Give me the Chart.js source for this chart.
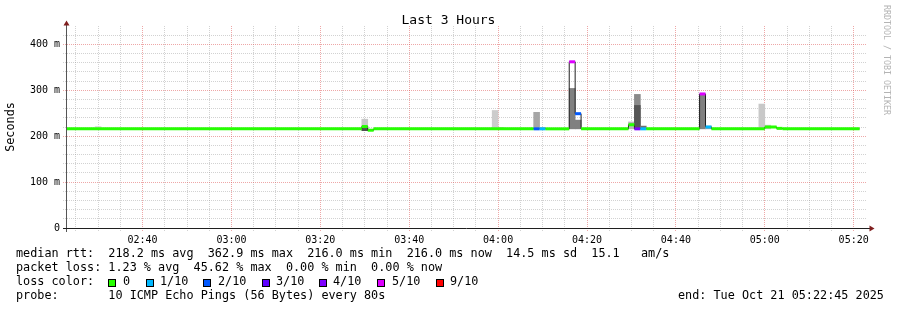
<!DOCTYPE html>
<html><head><meta charset="utf-8">
<script src="https://cdn.jsdelivr.net/npm/chart.js@4.4.1/dist/chart.umd.min.js"></script>
<style>
html,body{margin:0;padding:0;background:#fff;}
#wrap{position:relative;width:897px;height:310px;overflow:hidden;background:#fff;font-family:"DejaVu Sans Mono",monospace;color:#000;}
#c{position:absolute;left:0;top:0;}
.t{position:absolute;white-space:pre;font-size:11.8px;line-height:14px;}
#title{position:absolute;left:0;width:897px;top:11.5px;text-align:center;font-size:13px;line-height:16px;white-space:pre;}
#wm{position:absolute;left:882px;top:5px;writing-mode:vertical-rl;font-size:8.3px;line-height:10px;color:#b4b4b4;white-space:pre;}
.sq{position:absolute;width:6px;height:6px;border:1px solid #000;top:279px;}
</style></head><body>
<div id="wrap">
<canvas id="c" width="897" height="310"></canvas>
<div id="title">Last 3 Hours</div>
<div id="wm">RRDTOOL / TOBI OETIKER</div>
<div id="legend"></div>
</div>
<script>
// ---------------- data ----------------
const titleText = "Last 3 Hours";
const yAxisTitle = "Seconds";
const xStart = "02:23:00";
const xEnd = "05:23:00";
const xTickLabels = ["02:40","03:00","03:20","03:40","04:00","04:20","04:40","05:00","05:20"];
const yTickValues = [0, 100, 200, 300, 400];
const yTickLabels = ["0", "100 m", "200 m", "300 m", "400 m"];
const stepSeconds = 80;

// median rtt (ms) per step run; last time closes the final run
const medianTimes = ["02:22:40","03:29:20","03:30:40","03:32:00","04:08:00","04:09:20","04:10:40",
  "04:16:00","04:17:20","04:18:40","04:29:20","04:30:40","04:32:00","04:33:20",
  "04:45:20","04:46:40","04:48:00","05:00:00","05:02:40","05:04:00","05:21:20"];
const medianMs   = [216, 221, 213, 216, 216, 216, 216, 362, 249, 216, 225, 216, 216, 216, 292, 220, 216, 220, 217, 216];
const medianLoss = [0,   0,   0,   0,   2,   1,   0,   5,   2,   0,   0,   4,   1,   0,   5,   1,   0,   0,   0,   0];

// smoke (ping spread) per 80 s step
const smokeTimes = ["02:29:20","03:29:20","03:29:20","03:58:40","04:00:00","04:08:00","04:09:20",
  "04:16:00","04:17:20","04:29:20","04:30:40","04:30:40","04:32:00","04:45:20","04:46:40","04:58:40","05:00:00"];
const smokeLow  = [215, 216, 212, 216, 216, 216, 216, 216, 216, 216, 216, 216, 216, 216, 216, 216, 216];
const smokeHigh = [221, 237, 217, 256, 219, 252, 219, 304, 235, 231, 291, 267, 222, 289, 222, 270, 224];
const smokeColors = ["#d8d8d8","#c8c8c8","#505050","#cccccc","#c0c0c0","#a6a6a6","#a6a6a6",
  "#808080","#808080","#b8b8b8","#8a8a8a","#555555","#707070","#808080","#a0a0a0","#c8c8c8","#c8c8c8"];

const lossLevels = [0, 1, 2, 3, 4, 5, 9];
const lossLabels = ["0", "1/10", "2/10", "3/10", "4/10", "5/10", "9/10"];
const lossColors = ["#26ff00", "#00b8ff", "#0059ff", "#5e00ff", "#7e00ff", "#dd00ff", "#ff0000"];

const statRows = [
  "median rtt:  218.2 ms avg  362.9 ms max  216.0 ms min  216.0 ms now  14.5 ms sd  15.1   am/s",
  "packet loss: 1.23 % avg  45.62 % max  0.00 % min  0.00 % now",
  "loss color:",
  "probe:       10 ICMP Echo Pings (56 Bytes) every 80s"
];
const endText = "end: Tue Oct 21 05:22:45 2025";

// ---------------- layout / style ----------------
const W = 897, H = 310;
const PLOT = {left: 67, right: 867, top: 26, bottom: 228};
const GRID = "rgba(143,143,143,0.4)";
const MGRID = "rgba(222,79,79,0.5)";
const FONT = "DejaVu Sans Mono";

const T = s => { const p = s.split(":").map(Number); return p[0]*60 + p[1] + (p[2]||0)/60; };
const stepMin = stepSeconds / 60;
const lossColorOf = n => lossColors[lossLevels.indexOf(n)];

const blackData = medianTimes.map((t, i) => ({x: T(t), y: medianMs[Math.min(i, medianMs.length - 1)]}));
const colorData = [];
for (let i = 0; i < medianMs.length; i++) {
  colorData.push({x: T(medianTimes[i]), y: medianMs[i]});
  colorData.push({x: T(medianTimes[i+1]), y: medianMs[i]});
  colorData.push({x: T(medianTimes[i+1]), y: null});
}
const smokeData = smokeTimes.map((t, i) => ({x: T(t) + stepMin/2, y: [smokeLow[i], smokeHigh[i]]}));

const xMin = T(xStart), xMax = T(xEnd);
const barW = (PLOT.right - PLOT.left) * stepMin / (xMax - xMin);

// text overlay
document.getElementById('title').textContent = titleText;
const lg = document.getElementById('legend');
const rowTops = [246.4, 260.4, 274.4, 288.4];
statRows.forEach((s, i) => {
  const d = document.createElement('div'); d.className = 't';
  d.style.left = '16px'; d.style.top = rowTops[i] + 'px'; d.textContent = s; lg.appendChild(d);
});
const e = document.createElement('div'); e.className = 't';
e.style.left = '678px'; e.style.top = rowTops[3] + 'px'; e.textContent = endText; lg.appendChild(e);
const sqLeft = [108, 146, 203, 262, 319, 377, 436];
const sqText = [123, 160, 218, 276, 333, 392, 450];
lossLabels.forEach((l, i) => {
  const q = document.createElement('div'); q.className = 'sq';
  q.style.left = sqLeft[i] + 'px'; q.style.background = lossColors[i]; lg.appendChild(q);
  const d = document.createElement('div'); d.className = 't';
  d.style.left = sqText[i] + 'px'; d.style.top = rowTops[2] + 'px'; d.textContent = l; lg.appendChild(d);
});

const decor = {
  id: 'decor',
  afterDraw(chart) {
    const c = chart.ctx;
    c.save();
    c.lineWidth = 1;
    c.strokeStyle = '#555';
    c.beginPath(); c.moveTo(66.5, 232); c.lineTo(66.5, 23); c.stroke();
    c.strokeStyle = '#1f1f1f';
    c.beginPath(); c.moveTo(63, 228.5); c.lineTo(870, 228.5); c.stroke();
    c.fillStyle = '#801f1f';
    c.beginPath(); c.moveTo(66.5, 20.5); c.lineTo(63.5, 25.5); c.lineTo(69.5, 25.5); c.closePath(); c.fill();
    c.beginPath(); c.moveTo(874.5, 228.5); c.lineTo(869.5, 225.5); c.lineTo(869.5, 231.5); c.closePath(); c.fill();
    c.restore();
  }
};

new Chart(document.getElementById('c'), {
  type: 'line',
  data: {datasets: [
    {type: 'bar', data: smokeData, backgroundColor: smokeColors, borderWidth: 0,
     barThickness: barW, grouped: false, order: 3},
    {type: 'line', data: blackData, stepped: true, borderColor: '#202020', borderWidth: 1,
     pointRadius: 0, order: 2},
    {type: 'line', data: colorData, borderWidth: 3, pointRadius: 0, spanGaps: false,
     borderCapStyle: 'butt', borderColor: lossColors[0],
     segment: {borderColor: ctx => lossColorOf(medianLoss[Math.floor(ctx.p0DataIndex/3)])}, order: 1}
  ]},
  options: {
    responsive: false, animation: false, devicePixelRatio: 1,
    layout: {padding: {left: 0, right: W - PLOT.right, top: PLOT.top, bottom: H - PLOT.bottom - 20}},
    plugins: {legend: {display: false}, tooltip: {enabled: false}, title: {display: false}},
    scales: {
      x: {
        type: 'linear', min: xMin, max: xMax, offset: false,
        afterBuildTicks: s => { const t = []; for (let v = Math.ceil(s.min/5)*5; v <= s.max; v += 5) t.push({value: v}); s.ticks = t; },
        afterFit: s => { s.height = 20; s.paddingLeft = 0; s.paddingRight = 0; },
        border: {display: false, dash: [1, 1]},
        grid: {offset: false, color: c => (c.tick && Math.round(c.tick.value) % 20 === 0) ? MGRID : GRID,
               tickColor: c => (c.tick && Math.round(c.tick.value) % 20 === 0) ? MGRID : GRID,
               tickLength: 4, tickBorderDash: [1, 1], lineWidth: 1},
        ticks: {autoSkip: false, maxRotation: 0, padding: 2, color: '#000', font: {family: FONT, size: 10},
                callback: v => { const l = xTickLabels.find(s => Math.abs(T(s) - v) < 0.01); return l || ''; }}
      },
      y: {
        min: 0, max: 440,
        afterBuildTicks: s => { const t = []; for (let v = 0; v < 440; v += 20) t.push({value: v}); s.ticks = t; },
        afterFit: s => { s.width = PLOT.left; s.paddingTop = 0; s.paddingBottom = 0; },
        border: {display: false, dash: [1, 1]},
        grid: {color: c => c.tick.value === 0 ? 'rgba(0,0,0,0)' : (c.tick.value % 100 === 0 ? MGRID : GRID),
               tickColor: c => c.tick.value % 100 === 0 ? MGRID : GRID,
               tickLength: 4, tickBorderDash: [1, 1], lineWidth: 1},
        title: {display: true, text: yAxisTitle, color: '#000', font: {family: FONT, size: 11.8}, padding: {top: 4, bottom: 0}},
        ticks: {autoSkip: false, padding: 3, color: '#000', font: {family: FONT, size: 10},
                callback: v => { const i = yTickValues.indexOf(v); return i >= 0 ? yTickLabels[i] : ''; }}
      }
    }
  },
  plugins: [decor]
});
</script>
</body></html>
